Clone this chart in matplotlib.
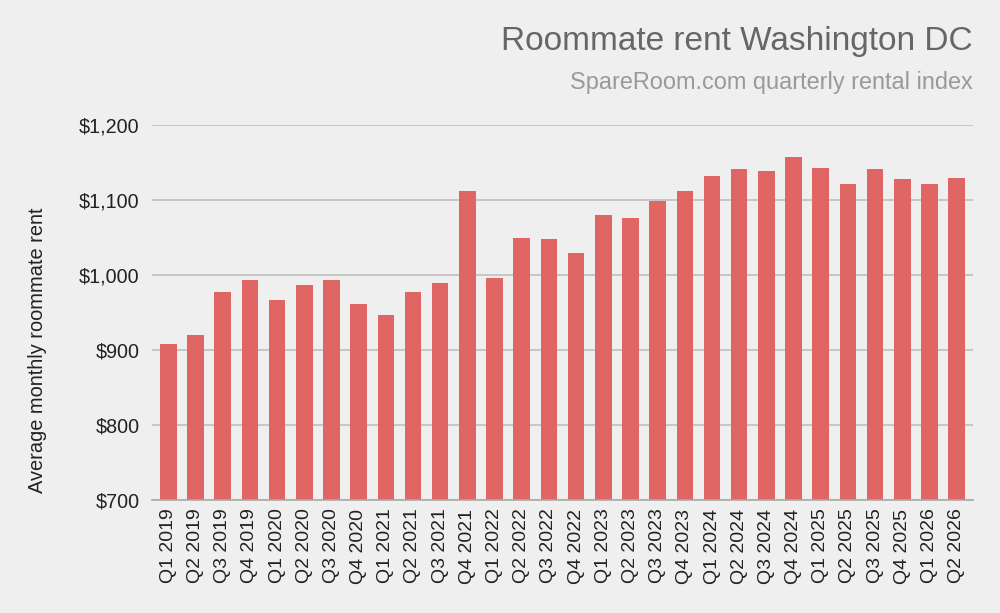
import matplotlib.pyplot as plt
from matplotlib.ticker import FuncFormatter

plt.rcParams['font.family'] = ['Liberation Sans', 'DejaVu Sans']

quarters = ["Q1", "Q2", "Q3", "Q4"]
years = [2019, 2020, 2021, 2022, 2023, 2024, 2025, 2026]
labels = [f"{q} {y}" for y in years for q in quarters][:30]

rent = [908, 920, 978, 993, 967, 987, 993, 962, 947, 978,
        989, 1112, 996, 1049, 1048, 1029, 1080, 1076, 1099, 1112,
        1132, 1141, 1139, 1157, 1143, 1121, 1141, 1128, 1121, 1130]

bg = "#efefef"
bar_color = "#e06666"

fig = plt.figure(figsize=(10, 6.13), dpi=100, facecolor=bg)
ax = fig.add_axes([0.152, 0.184, 0.821, 0.612], facecolor=bg)

x = list(range(len(rent)))
ax.bar(x, rent, width=0.61, color=bar_color, zorder=3)

ax.set_xlim(-0.6, len(rent) - 0.4)
ax.set_ylim(700, 1200)
ax.set_yticks([700, 800, 900, 1000, 1100, 1200])
ax.yaxis.set_major_formatter(FuncFormatter(lambda v, p: f"${v:,.0f}"))
ax.grid(axis="y", color="#c0c0c0", linewidth=1.2, zorder=0)

ax.set_xticks(x)
ax.set_xticklabels(labels, rotation=90, fontsize=14, color="#222222")
ax.tick_params(axis="y", labelsize=14.2, length=0, pad=9, labelcolor="#222222")
ax.tick_params(axis="x", length=0, pad=6)

for side in ["top", "right", "left"]:
    ax.spines[side].set_visible(False)
ax.spines["bottom"].set_color("#aaaaaa")
ax.spines["bottom"].set_linewidth(1.2)
ax.spines["bottom"].set_zorder(4)

ax.set_ylabel("Average monthly roommate rent", fontsize=14.4, color="#222222")
ax.yaxis.set_label_coords(-0.128, 0.4)

fig.text(0.973, 0.933, "Roommate rent Washington DC", ha="right", va="center",
         fontsize=24, color="#666666")
fig.text(0.973, 0.865, "SpareRoom.com quarterly rental index", ha="right", va="center",
         fontsize=16.9, color="#999999")

fig.savefig("out.png", dpi=100, facecolor=bg)
